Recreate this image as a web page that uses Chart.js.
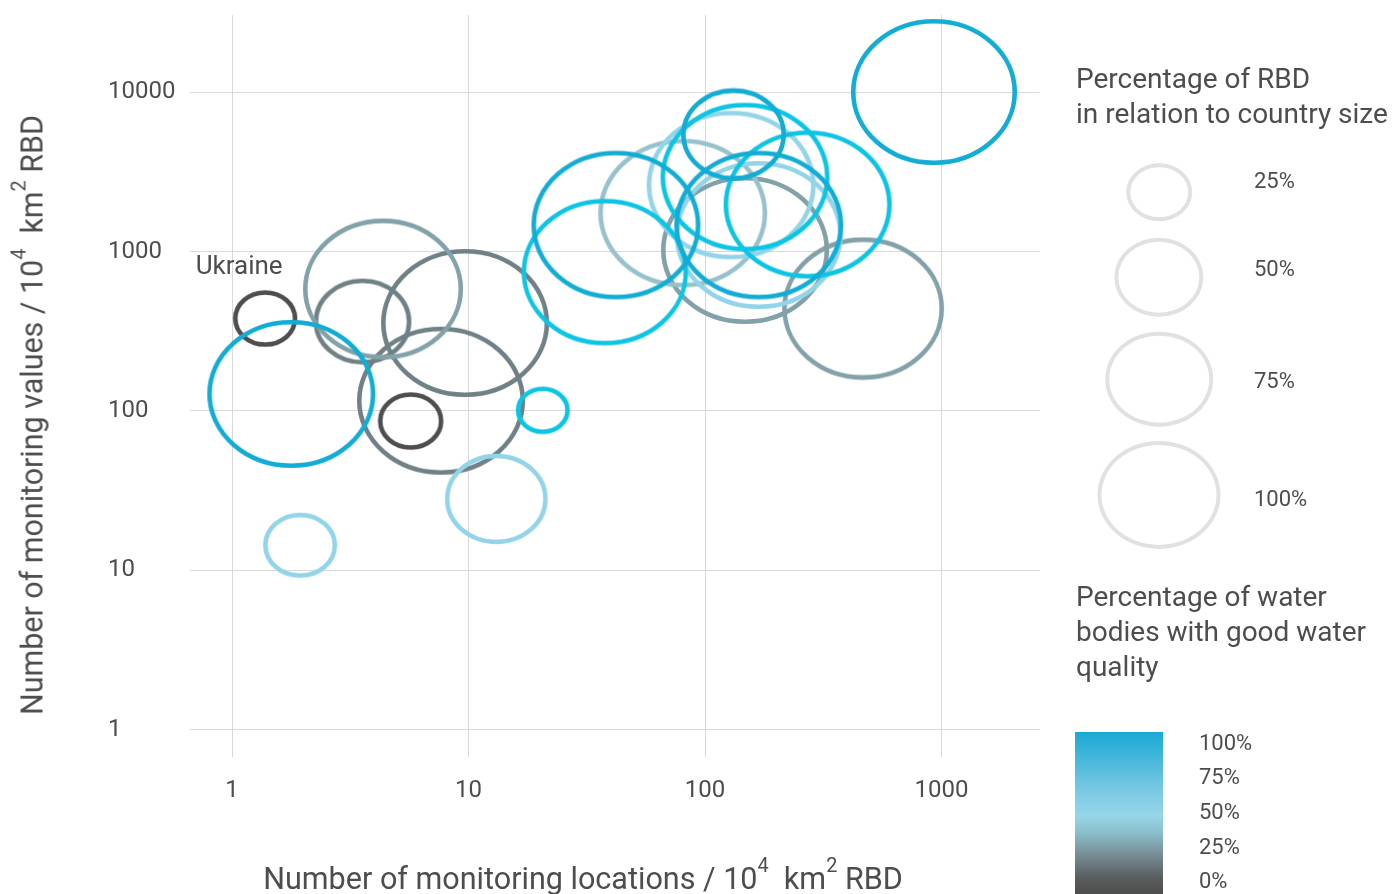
<!DOCTYPE html>
<html>
<head>
<meta charset="utf-8">
<script src="https://cdn.jsdelivr.net/npm/chart.js@4.4.1/dist/chart.umd.min.js"></script>
<style>
  html, body { margin: 0; padding: 0; background: #fff; }
  body { width: 1399px; height: 894px; position: relative; overflow: hidden; font-family: Roboto, "Noto Sans", sans-serif; color: #4d4d4d; }
  #chart { position: absolute; left: 0; top: 0; }
  .txt { position: absolute; white-space: nowrap; pointer-events: none; }
  .ttl { font-size: 28px; line-height: 35px; }
  .lbl { font-size: 22px; line-height: 24px; transform: translateY(-50%); }
  .ring { position: absolute; box-sizing: border-box; border: 4px solid #e1e1e1; border-radius: 50%; transform: translate(-50%, -50%); }
  sup { font-size: 0.65em; line-height: 0; vertical-align: 0.85em; }
</style>
</head>
<body>
<canvas id="chart" width="1399" height="894"></canvas>
<div id="ytitle" class="txt">Number of monitoring values / 10<sup>4</sup>&nbsp; km<sup>2</sup> RBD</div>
<div id="xtitle" class="txt">Number of monitoring locations / 10<sup>4</sup>&nbsp; km<sup>2</sup> RBD</div>
<div id="legend"></div>
<script>
// monitoring locations per 10^4 km2 RBD
const locations = [1.38, 5.69, 3.56, 9.67, 7.65, 147.6, 4.35, 466, 80.5, 13.1, 1.94, 129, 168.5, 20.6, 37.7, 147.6, 271.6, 1.78, 42.0, 132, 168.8, 929];
// monitoring values per 10^4 km2 RBD
const values = [380, 86.5, 364, 356, 116, 1022, 582, 439, 1743, 28.1, 14.4, 2612, 1269, 101, 743, 2931, 1972, 128, 1466, 5418, 1466, 10000];
// percentage of RBD in relation to country size
const rbdShare = [24, 25, 61, 194, 194, 194, 175, 179, 196, 68, 33, 196, 194, 16, 190, 196, 194, 194, 196, 71, 196, 189];
// percentage of water bodies with good water quality
const goodQuality = [5, 8, 22, 25, 27, 33, 35, 37, 45, 55, 57, 58, 60, 78, 80, 76, 82, 95, 92, 97, 94, 98];
const pointLabels = ['Ukraine', '', '', '', '', '', '', '', '', '', '', '', '', '', '', '', '', '', '', '', '', ''];

const xTicks = [1, 10, 100, 1000];
const yTicks = [1, 10, 100, 1000, 10000];
const legendShares = [25, 50, 75, 100];
const legendQuality = [100, 75, 50, 25, 0];

const TEXT = '#4d4d4d';
const GRID = '#d9d9d9';
const ASPECT = 0.88;

const halfWidth = share => 4 + 57.5 * Math.sqrt(share / 100);

const qualityColor = q => {
  if (q < 15) return '#4e4e4e';
  if (q < 30) return '#6f8086';
  if (q < 40) return '#82a1a8';
  if (q < 50) return '#98c2cb';
  if (q < 70) return '#92d4e8';
  if (q < 88) return '#0cc4e4';
  return '#12acd5';
};

const imgCache = {};
const ellipseImage = (hw, color) => {
  const key = hw.toFixed(1) + color;
  if (imgCache[key]) return imgCache[key];
  const hh = hw * ASPECT;
  const c = document.createElement('canvas');
  c.width = Math.round(hw * 2) + 2;
  c.height = Math.round(hh * 2) + 2;
  const g = c.getContext('2d');
  g.strokeStyle = color;
  g.lineWidth = 4.6;
  g.beginPath();
  g.ellipse(c.width / 2, c.height / 2, hw - 2.3, hh - 2.3, 0, 0, Math.PI * 2);
  g.stroke();
  imgCache[key] = c;
  return c;
};

const labelPlugin = {
  id: 'pointLabels',
  afterDatasetsDraw(chart) {
    const ctx = chart.ctx;
    const meta = chart.getDatasetMeta(0);
    ctx.save();
    ctx.font = '26px Roboto, "Noto Sans", sans-serif';
    ctx.fillStyle = TEXT;
    ctx.textAlign = 'center';
    ctx.textBaseline = 'middle';
    meta.data.forEach((pt, i) => {
      if (pointLabels[i]) ctx.fillText(pointLabels[i], pt.x - 26, pt.y - 51);
    });
    ctx.restore();
  }
};

const tickFont = { family: 'Roboto, "Noto Sans", sans-serif', size: 24 };

new Chart(document.getElementById('chart'), {
  type: 'scatter',
  data: {
    datasets: [{
      data: locations.map((x, i) => ({ x: x, y: values[i] })),
      pointRadius: 3,
      pointStyle: ctx => ellipseImage(halfWidth(rbdShare[ctx.dataIndex]), qualityColor(goodQuality[ctx.dataIndex]))
    }]
  },
  options: {
    responsive: false,
    animation: false,
    layout: { padding: { left: 108, right: 359, top: 15, bottom: 0 } },
    plugins: { legend: { display: false }, tooltip: { enabled: false } },
    scales: {
      x: {
        type: 'logarithmic',
        min: 0.664,
        max: 2609,
        afterBuildTicks: s => { s.ticks = xTicks.map(v => ({ value: v })); },
        afterFit: s => { s.height = 137; },
        grid: { color: GRID, drawTicks: false },
        border: { display: false },
        ticks: { color: TEXT, font: tickFont, padding: 20, maxRotation: 0, callback: v => String(v) }
      },
      y: {
        type: 'logarithmic',
        min: 0.677,
        max: 30400,
        afterBuildTicks: s => { s.ticks = yTicks.map(v => ({ value: v })); },
        afterFit: s => { s.width = 82; },
        grid: { color: GRID, drawTicks: false },
        border: { display: false },
        ticks: { color: TEXT, font: tickFont, crossAlign: 'far', padding: 0, callback: v => String(v) }
      }
    }
  },
  plugins: [labelPlugin]
});

// fit a text element to a target width
const fitText = (el, target, base) => {
  el.style.fontSize = base + 'px';
  const w = el.getBoundingClientRect().width;
  el.style.fontSize = (base * target / w) + 'px';
};

const yt = document.getElementById('ytitle');
fitText(yt, 600, 28);
yt.style.left = '32px';
yt.style.top = '415px';
yt.style.transform = 'translate(-50%, -50%) rotate(-90deg)';

const xt = document.getElementById('xtitle');
fitText(xt, 640, 28);
xt.style.left = '583px';
xt.style.top = '878px';
xt.style.transform = 'translate(-50%, -50%)';

// legend
const legend = document.getElementById('legend');
const add = (html, cls, style) => {
  const d = document.createElement('div');
  d.className = cls;
  d.innerHTML = html;
  Object.assign(d.style, style);
  legend.appendChild(d);
  return d;
};

add('Percentage of RBD<br>in relation to country size', 'txt ttl', { left: '1076px', top: '61px' });
const ringY = [192, 277, 379, 495];
const ringLabelY = [181, 269, 381, 499];
legendShares.forEach((s, i) => {
  const hw = halfWidth(s);
  add('', 'ring', { left: '1159px', top: ringY[i] + 'px', width: (hw * 2) + 'px', height: (hw * 2 * ASPECT) + 'px' });
  add(s + '%', 'txt lbl', { left: '1254px', top: ringLabelY[i] + 'px' });
});

add('Percentage of water<br>bodies with good water<br>quality', 'txt ttl', { left: '1076px', top: '579px' });
add('', '', {
  position: 'absolute', left: '1075px', top: '732px', width: '88px', height: '162px',
  background: 'linear-gradient(to bottom, #1aa9d4 0%, #4fbadd 20%, #7fcbe4 38%, #96d5e8 52%, #8bbfcc 62%, #768c93 76%, #5a5d5f 90%, #4d4d4d 100%)'
});
const qualY = [743, 777, 812, 847, 881];
legendQuality.forEach((q, i) => {
  add(q + '%', 'txt lbl', { left: '1199px', top: qualY[i] + 'px' });
});
</script>
</body>
</html>
